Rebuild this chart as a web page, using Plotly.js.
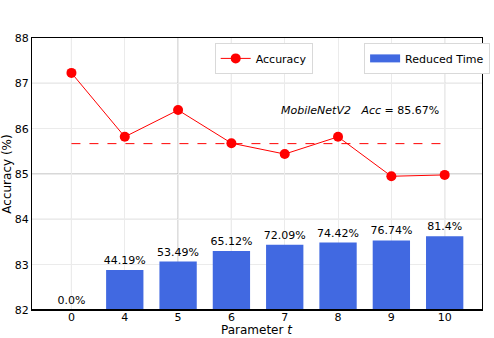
<!DOCTYPE html>
<html><head><meta charset="utf-8">
<script src="https://cdn.plot.ly/plotly-3.0.1.min.js"></script>
<style>html,body{margin:0;padding:0;background:#fff}#c{width:494px;height:338px}</style>
</head><body><div id="c"></div>
<script>
const categories = ['0','4','5','6','7','8','9','10'];
const accuracy = [87.23, 85.82, 86.41, 85.68, 85.44, 85.82, 84.95, 84.98];
const reducedTime = [0, 44.19, 53.49, 65.12, 72.09, 74.42, 76.74, 81.4];
const reducedLabels = ['0.0%','44.19%','53.49%','65.12%','72.09%','74.42%','76.74%','81.4%'];
const baselineAcc = 85.67;
const baselineSpan = ['0','10'];

const darkX = [0,2,3,7];
const darkY = [84,85,87];
const shapes = [];
darkX.forEach(v=>shapes.push({type:'line',layer:'below',xref:'x',yref:'paper',x0:v,x1:v,y0:0,y1:1,line:{color:'#b0b0b0',width:1}}));
darkY.forEach(v=>shapes.push({type:'line',layer:'below',xref:'paper',yref:'y',x0:0,x1:1,y0:v,y1:v,line:{color:'#b0b0b0',width:1}}));
shapes.push({type:'line',layer:'above',xref:'paper',yref:'paper',x0:0,x1:1,y0:0,y1:0,line:{color:'#000',width:2}});

const fam = 'DejaVu Sans, sans-serif';

const traces = [
 {type:'bar', x:categories, y:reducedTime, yaxis:'y2', name:'Reduced Time', showlegend:false,
  marker:{color:'#4169E1'}, width:0.7, text:reducedLabels, textposition:'outside', constraintext:'none',
  textfont:{family:fam, size:11, color:'#000'}, cliponaxis:false},
 {type:'scatter', mode:'lines', x:[null], y:[null], yaxis:'y2', name:'Reduced Time',
  line:{color:'#4169E1', width:8}, legend:'legend2', showlegend:true},
 {type:'scatter', mode:'lines+markers', x:categories, y:accuracy, name:'Accuracy',
  line:{color:'#ff0000', width:1}, marker:{color:'#ff0000', size:10}, legend:'legend'},
 {type:'scatter', mode:'lines', x:baselineSpan, y:[baselineAcc, baselineAcc], showlegend:false,
  line:{color:'#ff0000', width:1, dash:'dash'}}
];

const layout = {
 width:494, height:338, margin:{l:32, r:4, t:38, b:28},
 paper_bgcolor:'#fff', plot_bgcolor:'#fff', font:{family:fam, size:11, color:'#000'}, showlegend:true,
 xaxis:{type:'category', categoryorder:'array', categoryarray:categories, range:[-0.74,7.7],
   showgrid:true, gridcolor:'#ebebeb', gridwidth:1, showline:true, linecolor:'#000', linewidth:1, mirror:true,
   ticks:'', ticklen:0, tickfont:{family:fam, size:11}, zeroline:false, ticklabelstandoff:-3},
 yaxis:{range:[82,88], dtick:1, showgrid:true, gridcolor:'#ebebeb', gridwidth:1, showline:true, linecolor:'#000', linewidth:1, mirror:true,
   ticks:'', tickfont:{family:fam, size:11}, zeroline:false,
   title:{text:'Accuracy (%)', font:{family:fam, size:12}, standoff:4}},
 yaxis2:{overlaying:'y', range:[0,300], showgrid:false, showticklabels:false, ticks:'', zeroline:false, showline:false},
 legend:{x:0.406, y:0.982, xanchor:'left', yanchor:'top', bgcolor:'#fff', bordercolor:'#d9d9d9', borderwidth:1,
   font:{family:fam, size:11}, itemwidth:30},
 legend2:{x:0.738, y:0.982, xanchor:'left', yanchor:'top', bgcolor:'#fff', bordercolor:'#d9d9d9', borderwidth:1,
   font:{family:fam, size:11}, itemwidth:30},
 annotations:[
  {xref:'x', yref:'y', x:5.41, y:86.39, xanchor:'center', showarrow:false,
   text:'<i>MobileNetV2</i>   <i>Acc</i> = 85.67%', font:{family:fam, size:11, color:'#000'}},
  {xref:'paper', yref:'paper', x:0.499, y:-0.0735, xanchor:'center', yanchor:'middle', showarrow:false,
   text:'Parameter <i>t</i>', font:{family:fam, size:12, color:'#000'}}
 ],
 shapes:shapes
};
Plotly.newPlot('c', traces, layout, {displayModeBar:false, staticPlot:true});
</script></body></html>
